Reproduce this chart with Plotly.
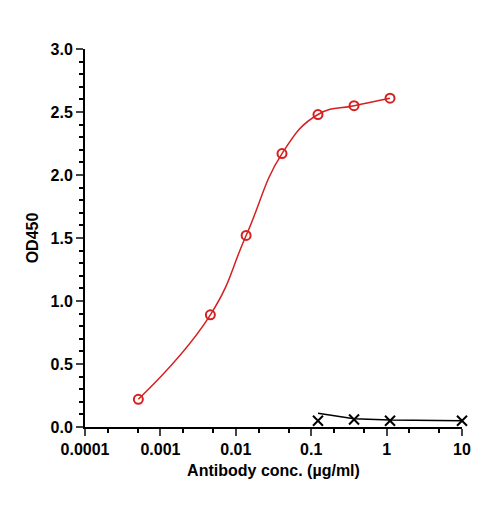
import plotly.graph_objects as go

# antibody sample (red circles)
conc = [0.00051, 0.0046, 0.0137, 0.041, 0.123, 0.37, 1.11]
od = [0.22, 0.89, 1.52, 2.17, 2.48, 2.55, 2.61]

# control (black crosses)
ctrl_conc = [0.123, 0.37, 1.11, 10]
ctrl_od = [0.05, 0.06, 0.05, 0.05]
ctrl_fit = [0.11, 0.065, 0.055, 0.05]

fig = go.Figure()
fig.add_trace(go.Scatter(x=conc, y=od, mode="lines", cliponaxis=False,
                         line=dict(color="#d62020", width=1.5, shape="spline", smoothing=1.3)))
fig.add_trace(go.Scatter(x=conc, y=od, mode="markers", cliponaxis=False,
                         marker=dict(symbol="circle-open", size=9, color="#d62020", line=dict(width=2))))
fig.add_trace(go.Scatter(x=ctrl_conc, y=ctrl_fit, mode="lines", cliponaxis=False,
                         line=dict(color="black", width=1.5)))
fig.add_trace(go.Scatter(x=ctrl_conc, y=ctrl_od, mode="markers", cliponaxis=False,
                         marker=dict(symbol="x-thin-open", size=10, color="black", line=dict(width=2, color="black"))))

tfont = dict(size=16, family="Liberation Sans, Arial", weight="bold", color="black")
fig.update_layout(
    width=485, height=508, showlegend=False,
    paper_bgcolor="white", plot_bgcolor="white",
    margin=dict(l=77, r=31, t=41, b=89),
    font=dict(family="Liberation Sans, Arial", size=16, color="black"),
    xaxis=dict(type="log", range=[-4, 1], tickvals=[0.0001, 0.001, 0.01, 0.1, 1, 10],
               ticktext=["0.0001", "0.001", "0.01", "0.1", "1", "10"],
               showline=True, linecolor="black", linewidth=2, ticks="outside", ticklen=7, tickwidth=2,
               minor=dict(ticks="outside", ticklen=4, tickwidth=1.5, tickcolor="black", showgrid=False),
               showgrid=False, zeroline=False,
               title=dict(text="<b>Antibody conc. (µg/ml)</b>", standoff=8, font=dict(size=16)),
               tickfont=tfont),
    yaxis=dict(range=[0, 3], dtick=0.5, tickformat=".1f",
               showline=True, linecolor="black", linewidth=2, ticks="outside", ticklen=7, tickwidth=2,
               minor=dict(ticks="outside", dtick=0.1, ticklen=4, tickwidth=1.5, tickcolor="black", showgrid=False),
               showgrid=False, zeroline=False,
               title=dict(text="<b>OD450</b>", standoff=8, font=dict(size=16)),
               tickfont=tfont),
)
fig.write_html("out.html")
